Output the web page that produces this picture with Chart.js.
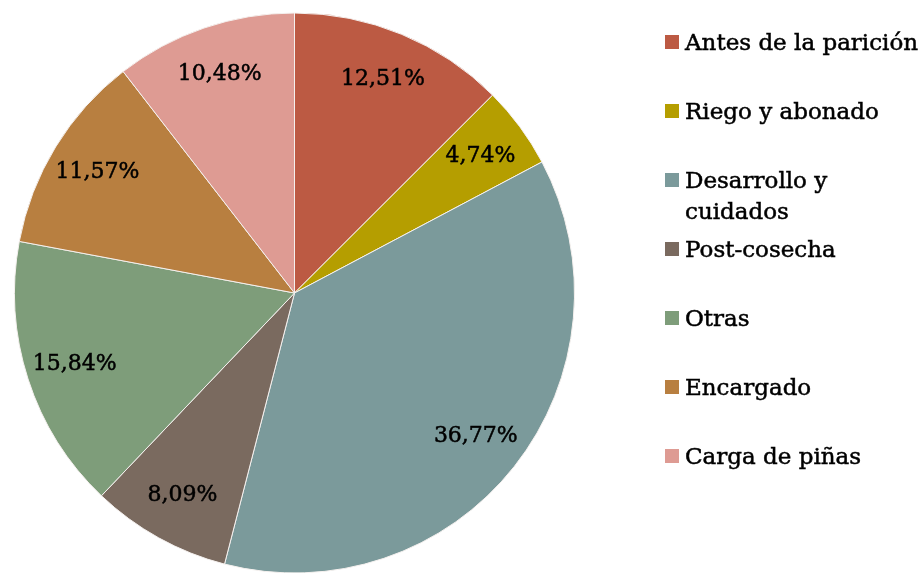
<!DOCTYPE html>
<html>
<head>
<meta charset="utf-8">
<script src="https://cdn.jsdelivr.net/npm/chart.js@4.4.1/dist/chart.umd.min.js"></script>
<style>
    body { margin: 0; background: #fff; }
    #wrap { width: 921px; height: 573px; overflow: hidden; }
</style>
</head>
<body>
<div id="wrap"><canvas id="myChart" width="921" height="590"></canvas></div>
<script>
const labels = [
    'Antes de la parición',
    'Riego y abonado',
    'Desarrollo y cuidados',
    'Post-cosecha',
    'Otras',
    'Encargado',
    'Carga de piñas'
];

const values = [12.51, 4.74, 36.77, 8.09, 15.84, 11.57, 10.48];

const colors = ['#bc5a43', '#b59e00', '#7b9a9b', '#7a6a5f', '#7e9d7a', '#b87f40', '#de9b93'];

const serif = '"DejaVu Serif", serif';

// text a bit heavier, closer to the original look
function boldish(ctx, txt, x, y) {
    ctx.lineWidth = 0.5;
    ctx.strokeStyle = '#000';
    ctx.strokeText(txt, x, y);
    ctx.fillText(txt, x, y);
}

// percent labels inside the slices
const sliceLabels = {
    id: 'sliceLabels',
    afterDatasetsDraw(chart) {
        const ctx = chart.ctx;
        const meta = chart.getDatasetMeta(0);
        ctx.save();
        ctx.font = '22px ' + serif;
        ctx.fillStyle = '#000';
        ctx.textAlign = 'center';
        ctx.textBaseline = 'middle';
        meta.data.forEach((arc, i) => {
            const p = arc.getProps(['x', 'y', 'startAngle', 'endAngle', 'outerRadius'], true);
            const a = (p.startAngle + p.endAngle) / 2;
            const r = p.outerRadius * 0.825;
            const txt = values[i].toFixed(2).replace('.', ',') + '%';
            boldish(ctx, txt, p.x + Math.cos(a) * r, p.y + Math.sin(a) * r);
        });
        ctx.restore();
    }
};

// legend on the right, long names wrap
const sideLegend = {
    id: 'sideLegend',
    afterDraw(chart) {
        const ctx = chart.ctx;
        const x0 = 665, step = 69, top = 42, maxW = 245;
        ctx.save();
        ctx.font = '23px ' + serif;
        ctx.textBaseline = 'alphabetic';
        ctx.textAlign = 'left';
        labels.forEach((lab, i) => {
            const cy = top + i * step;
            ctx.fillStyle = colors[i];
            ctx.fillRect(x0, cy - 7, 14, 14);
            ctx.fillStyle = '#000';
            let lines = [], cur = '';
            lab.split(' ').forEach(w => {
                const t = cur ? cur + ' ' + w : w;
                if (cur && ctx.measureText(t).width > maxW) {
                    lines.push(cur);
                    cur = w;
                } else {
                    cur = t;
                }
            });
            lines.push(cur);
            lines.forEach((ln, j) => boldish(ctx, ln, x0 + 20, cy + 8 + j * 31));
        });
        ctx.restore();
    }
};

const config = {
    type: 'pie',
    data: {
        labels: labels,
        datasets: [{
            data: values,
            backgroundColor: colors,
            borderColor: '#f4f0ee',
            borderWidth: 1
        }]
    },
    options: {
        responsive: false,
        animation: false,
        layout: {
            padding: { left: 14, top: 12, right: 346, bottom: 16 }
        },
        plugins: {
            legend: { display: false },
            tooltip: { enabled: false }
        }
    },
    plugins: [sliceLabels, sideLegend]
};

var myChart = new Chart(document.getElementById('myChart'), config);
</script>
</body>
</html>
